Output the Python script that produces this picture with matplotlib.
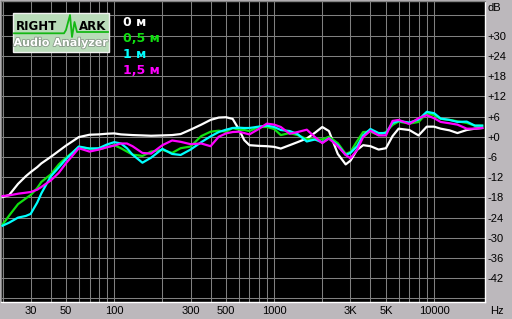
#!/usr/bin/env python3
"""RMAA-style frequency response: four measurement distances on a black log grid."""

import matplotlib
matplotlib.use("Agg")
import matplotlib.pyplot as plt
import matplotlib.patheffects as pe
from matplotlib.patches import Rectangle

FREQ = [20, 22, 25, 28, 30, 33, 35, 40, 45, 50,
        60, 70, 80, 90, 100, 110, 120, 130, 150, 170,
        200, 230, 260, 300, 350, 400, 450, 500, 550, 600,
        650, 700, 800, 900, 1000, 1100, 1250, 1400, 1600, 1800,
        2000, 2200, 2500, 2800, 3000, 3300, 3600, 4000, 4500, 5000,
        5500, 6000, 7000, 8000, 9000, 10000, 11000, 12500, 14000, 16000,
        18000, 20000]

DB_0M = [-17.9, -17.3, -14.0, -11.7, -10.5, -9.0, -7.9, -6.0, -4.2, -2.6,
         -0.1, 0.6, 0.7, 0.9, 1.0, 0.7, 0.6, 0.5, 0.4, 0.3,
         0.4, 0.5, 0.8, 2.1, 3.6, 5.0, 5.7, 5.8, 5.3, 2.3,
         -1.0, -2.5, -2.7, -2.8, -3.0, -3.5, -2.5, -1.6, -0.5, 1.2,
         2.9, 1.7, -5.1, -8.2, -7.1, -3.9, -2.5, -2.8, -3.8, -3.4,
         0.2, 2.4, 2.0, 0.4, 3.0, 3.0, 2.4, 1.9, 1.1, 2.0,
         2.4, 2.6]

DB_05M = [-26.1, -23.4, -20.0, -18.3, -17.3, -15.2, -13.4, -11.2, -8.2, -6.2,
          -3.1, -3.5, -3.8, -3.1, -2.5, -3.4, -4.4, -5.3, -5.7, -4.4,
          -3.9, -4.8, -3.4, -2.9, 0.2, 1.5, 1.8, 1.5, 2.6, 2.1,
          2.0, 1.7, 2.9, 2.9, 2.3, 0.5, 1.1, 0.5, -0.7, -0.8,
          -0.8, 0.0, -1.9, -5.1, -4.5, -1.3, 1.4, 1.5, 0.5, 1.4,
          3.5, 4.5, 3.9, 4.4, 7.0, 6.4, 5.3, 5.0, 4.6, 4.1,
          3.3, 3.3]

DB_1M = [-26.4, -25.5, -24.0, -23.5, -22.9, -19.5, -16.8, -11.8, -9.1, -6.6,
         -2.9, -3.5, -3.4, -2.3, -1.6, -2.0, -3.4, -5.3, -7.7, -6.2,
         -3.6, -5.1, -5.4, -3.8, -1.6, 0.1, 1.4, 2.1, 2.6, 2.7,
         2.6, 2.6, 3.0, 3.3, 2.9, 2.0, 1.7, 0.8, -1.4, -0.8,
         -1.7, -0.5, -2.5, -5.4, -4.8, -2.8, 0.4, 2.3, 1.1, 1.1,
         4.1, 4.7, 4.2, 5.1, 7.4, 7.0, 5.4, 5.0, 4.4, 4.5,
         3.3, 3.3]

DB_15M = [-17.6, -17.4, -16.9, -16.6, -16.4, -15.7, -14.9, -13.0, -10.7, -7.8,
          -3.4, -4.4, -3.8, -3.1, -2.6, -2.0, -2.0, -2.8, -4.8, -5.0,
          -2.5, -1.1, -1.5, -2.2, -2.0, -2.8, 0.0, 1.0, 1.4, 1.5,
          1.1, 0.7, 2.3, 3.9, 3.6, 2.9, 0.9, 1.4, 2.1, -0.1,
          -1.9, -0.5, -2.8, -5.4, -6.4, -3.9, -0.1, 1.8, 0.4, 0.4,
          4.7, 5.0, 3.8, 5.5, 6.4, 5.5, 4.4, 4.0, 3.6, 2.4,
          2.4, 2.6]

SERIES = [("0 м", DB_0M, "#ffffff"),
          ("0,5 м", DB_05M, "#10e010"),
          ("1 м", DB_1M, "#00ffff"),
          ("1,5 м", DB_15M, "#ff00ff")]

X_TICKS = [30, 50, 100, 300, 500, 1000, 3000, 5000, 10000]
X_LABELS = ["30", "50", "100", "300", "500", "1000", "3K", "5K", "10000"]
X_GRID = [20, 30, 40, 50, 60, 70, 80, 90, 100, 200, 300, 400, 500, 600, 700,
          800, 900, 1000, 2000, 3000, 4000, 5000, 6000, 7000, 8000, 9000, 10000]
Y_TICKS = list(range(-48, 37, 6))
Y_LABELS = ["" if v in (-48, 36) else (f"+{v}" if v >= 0 else str(v)) for v in Y_TICKS]

BG = "#bcb8bc"
GRID = "#808080"
W, H = 512, 319


def main() -> None:
    fig = plt.figure(figsize=(W / 100, H / 100), dpi=100, facecolor=BG)
    # plot area in pixels: x 1..485, y 1..302
    ax = fig.add_axes([1 / W, (H - 302) / H, 484 / W, 301 / H], facecolor="black")

    ax.set_xscale("log")
    ax.set_xlim(19.57, 20820)
    ax.set_ylim(-49.05, 40.3)

    for f in X_GRID:
        ax.axvline(f, color=GRID, lw=0.75, zorder=1)
    for v in Y_TICKS:
        ax.axhline(v, color=GRID, lw=0.75, zorder=1)

    for name, db, c in SERIES:
        ax.plot(FREQ, db, color=c, lw=1.6, zorder=3, solid_joinstyle="round")

    ax.set_xticks(X_TICKS, X_LABELS)
    ax.set_xticks([], minor=True)
    ax.yaxis.tick_right()
    ax.set_yticks(Y_TICKS, Y_LABELS)
    ax.tick_params(axis="both", length=0, labelsize=8, labelfontfamily="Liberation Sans")
    ax.tick_params(axis="x", pad=3)
    ax.tick_params(axis="y", pad=1.5)

    for side in ("left", "top"):
        ax.spines[side].set_color(GRID)
    for side in ("right", "bottom"):
        ax.spines[side].set_color("white")
    for s in ax.spines.values():
        s.set_linewidth(1.0)

    # overlay in pixel coordinates for logo, legend and unit labels
    ov = fig.add_axes([0, 0, 1, 1], facecolor="none", zorder=10)
    ov.set_xlim(0, W)
    ov.set_ylim(H, 0)
    ov.axis("off")

    ov.text(487, 8, "dB", fontsize=8, family="Liberation Sans", va="center", ha="left")
    ov.text(497, 311, "Hz", fontsize=8, family="Liberation Sans", va="center", ha="center")

    # logo
    ov.add_patch(Rectangle((12.5, 12.5), 96.5, 39.5, facecolor="#b9dbb9",
                           edgecolor="#f0f0f0", lw=1.0))
    ov.plot([14, 64, 66, 70, 72, 74.5, 77, 108], [33.3, 33.3, 30, 15, 37, 22, 32, 32],
            color="#14b814", lw=1.3)
    ov.text(15.5, 26, "RIGHT", fontsize=8.5, fontweight="bold", va="center", ha="left")
    ov.text(78.5, 26, "ARK", fontsize=8.5, fontweight="bold", va="center", ha="left")
    ov.text(60.5, 43, "Audio Analyzer", fontsize=8.0, fontweight="bold", color="white",
            va="center", ha="center",
            path_effects=[pe.withStroke(linewidth=1.2, foreground="#8a9a8a")])

    # legend
    for (name, _, c), y in zip(SERIES, [22, 38.5, 54, 70]):
        ov.text(123, y, name, color=c, fontsize=9, fontweight="bold", va="center", ha="left")

    fig.savefig("out.png", dpi=100, facecolor=BG)
    plt.close(fig)


if __name__ == "__main__":
    main()
